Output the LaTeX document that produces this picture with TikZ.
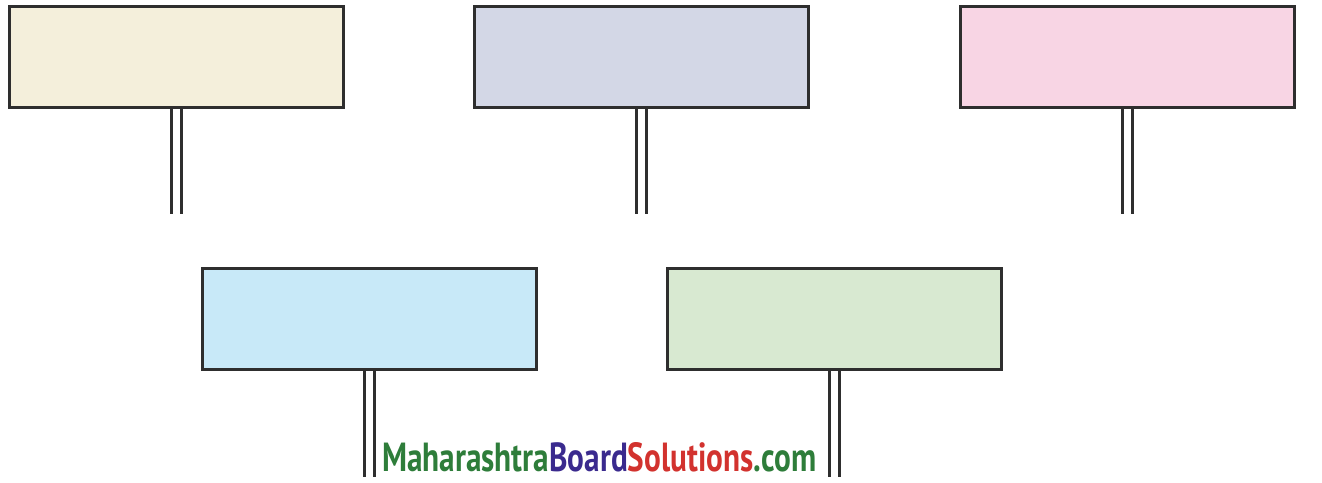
\documentclass[tikz,border=0pt]{standalone}
\usepackage{fontspec}
\setmainfont{PT Sans}
\usetikzlibrary{calc}
\definecolor{cbeige}{HTML}{F4EFDB}
\definecolor{clav}{HTML}{D3D7E6}
\definecolor{cpink}{HTML}{F8D5E4}
\definecolor{cblue}{HTML}{C8E9F8}
\definecolor{cgreen}{HTML}{D8E9D1}
\definecolor{edge}{HTML}{2E2E2E}
\definecolor{wmgreen}{HTML}{2E7D3A}
\definecolor{wmblue}{HTML}{3A2A8E}
\definecolor{wmred}{HTML}{D2322E}
\tikzset{
  board/.style={draw=edge, line width=2.6pt, minimum width=334pt, minimum height=101pt, inner sep=0pt, anchor=north west},
  post/.style={draw=edge, line width=3.4pt},
}
\begin{document}
\begin{tikzpicture}[x=1pt,y=-1pt]
\useasboundingbox (0,0) rectangle (1322,482);
\node[board, fill=cbeige] (b1) at (8,5) {};
\node[board, fill=clav] (b2) at (473,5) {};
\node[board, fill=cpink] (b3) at (959,5) {};
\node[board, fill=cblue] (b4) at (201,267) {};
\node[board, fill=cgreen] (b5) at (666,267) {};
\foreach \b/\d in {b1/105, b2/105, b3/105, b4/106, b5/106}{
  \coordinate (\b l) at ($(\b.south)+(-5,\d)$);
  \coordinate (\b r) at ($(\b.south)+(5,\d)$);
  \draw[post] ($(\b.south)+(-5,0)$) -- (\b l);
  \draw[post] ($(\b.south)+(5,0)$) -- (\b r);
}
\node[anchor=base west, inner sep=0pt] (wm) at (382,471) {\resizebox{434pt}{29pt}{\bfseries\textcolor{wmgreen}{Maharashtra}\textcolor{wmblue}{Board}\textcolor{wmred}{Solutions}\textcolor{wmgreen}{.com}}};
\end{tikzpicture}
\end{document}
